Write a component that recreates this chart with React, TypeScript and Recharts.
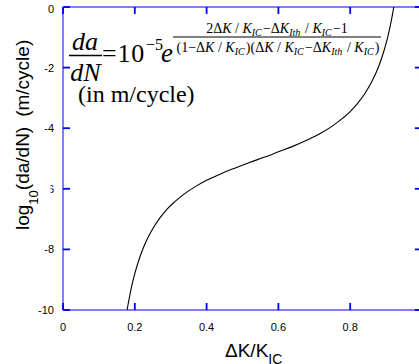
import { Customized, Line, LineChart, ReferenceLine, XAxis, YAxis } from "recharts";

// crack growth rate curve
const ratio = [
  0.178, 0.18, 0.185, 0.19, 0.2, 0.21, 0.22, 0.235, 0.25, 0.27, 0.29, 0.31, 0.34, 0.37, 0.4, 0.44, 0.48,
  0.52, 0.56, 0.6, 0.64, 0.68, 0.72, 0.75, 0.78, 0.8, 0.82, 0.84, 0.86, 0.88, 0.895, 0.905, 0.915, 0.922,
];
const logRate = [
  -10.04, -9.9, -9.58, -9.29, -8.8, -8.4, -8.06, -7.65, -7.32, -6.96, -6.67, -6.44, -6.15, -5.92, -5.72,
  -5.5, -5.31, -5.13, -4.96, -4.78, -4.6, -4.39, -4.15, -3.93, -3.66, -3.45, -3.19, -2.87, -2.47, -1.94,
  -1.41, -0.97, -0.42, 0.04,
];
const xTicks = [0, 0.2, 0.4, 0.6, 0.8, 1];
const yTicks = [-10, -8, -6, -4, -2, 0];

const data = ratio.map((r, i) => ({ ratio: r, logRate: logRate[i] }));

const AXIS = "#0000f0";
const SANS = "'Liberation Sans', Arial, sans-serif";
const SERIF = "'Liberation Serif', 'Times New Roman', serif";
// inward tick length (~7px) in data units, for the top and right edges
const TICK_X = 0.02;
const TICK_Y = 0.23;

function BottomTick({ x, y, payload }: any) {
  return (
    <text x={x} y={y + 21} textAnchor="middle" fontSize={11} fontFamily={SANS} fill="#000">
      {String(payload.value)}
    </text>
  );
}

function LeftTick({ x, y, payload }: any) {
  return (
    <g>
      <text x={x - 9} y={y + 4} textAnchor="end" fontSize={11} fontFamily={SANS} fill="#000">
        {String(payload.value)}
      </text>
      {/* in the original the subscript box hides most of this label */}
      {payload.value === -6 && <rect x={x - 22} y={y - 7} width={9.5} height={14} fill="#fff" />}
    </g>
  );
}

function Sub({ children }: any) {
  return (
    <>
      <tspan fontSize={10} fontStyle="italic" dy={3}>
        {children}
      </tspan>
      <tspan dy={-3}>{"\u200a"}</tspan>
    </>
  );
}

function Annotations() {
  return (
    <g>
      <text transform="translate(29,230) rotate(-90)" fontFamily={SANS} fontSize={19} fill="#000">
        log
        <tspan fontSize={13} dy={9}>
          10
        </tspan>
        <tspan dy={-9}>(da/dN)</tspan>
        <tspan dx={10}>(m/cycle)</tspan>
      </text>
      <text x={225} y={357} fontFamily={SANS} fontSize={19} fill="#000">
        ΔK/K
        <tspan fontSize={14} dy={7}>
          IC
        </tspan>
      </text>

      <g fontFamily={SERIF} fill="#000">
        <text x={85} y={50} fontSize={26} fontStyle="italic" textAnchor="middle">
          da
        </text>
        <line x1={69} x2={102} y1={55.5} y2={55.5} stroke="#000" strokeWidth={1.3} />
        <text x={85.5} y={81} fontSize={26} fontStyle="italic" textAnchor="middle">
          dN
        </text>
        <text x={102} y={62} fontSize={26} letterSpacing={0.8}>
          =10
        </text>
        <text x={146} y={50} fontSize={16}>
          −5
        </text>
        <text x={161} y={62} fontSize={27} fontStyle="italic">
          e
        </text>
        <text x={277} y={33} fontSize={14} textAnchor="middle">
          {"2Δ"}
          <tspan fontStyle="italic">K</tspan>
          {" / "}
          <tspan fontStyle="italic">K</tspan>
          <Sub>IC</Sub>
          {"−Δ"}
          <tspan fontStyle="italic">K</tspan>
          <Sub>Ith</Sub>
          {" / "}
          <tspan fontStyle="italic">K</tspan>
          <Sub>IC</Sub>
          {"−1"}
        </text>
        <line x1={173} x2={381} y1={37} y2={37} stroke="#000" strokeWidth={1} />
        <text x={278} y={52} fontSize={14} textAnchor="middle">
          {"(1−Δ"}
          <tspan fontStyle="italic">K</tspan>
          {" / "}
          <tspan fontStyle="italic">K</tspan>
          <Sub>IC</Sub>
          {")(Δ"}
          <tspan fontStyle="italic">K</tspan>
          {" / "}
          <tspan fontStyle="italic">K</tspan>
          <Sub>IC</Sub>
          {"−Δ"}
          <tspan fontStyle="italic">K</tspan>
          <Sub>Ith</Sub>
          {" / "}
          <tspan fontStyle="italic">K</tspan>
          <Sub>IC</Sub>
          {")"}
        </text>
        <text x={78} y={102} fontSize={24}>
          (in m/cycle)
        </text>
      </g>
    </g>
  );
}

export default function App() {
  return (
    <div
      style={{
        position: "absolute",
        left: 0,
        top: 0,
        width: 419,
        height: 364,
        overflow: "hidden",
        background: "#fff",
      }}
    >
      <LineChart width={440} height={364} data={data} margin={{ top: 7, right: 18, bottom: 0, left: 0 }}>
        <XAxis
          dataKey="ratio"
          type="number"
          domain={[0, 1]}
          ticks={xTicks}
          height={54}
          stroke={AXIS}
          tickLine={{ stroke: AXIS, strokeWidth: 1.8 }}
          tickSize={-7}
          tickMargin={7}
          tick={<BottomTick />}
          allowDataOverflow
        />
        <YAxis
          type="number"
          domain={[-10, 0]}
          ticks={yTicks}
          width={63}
          stroke={AXIS}
          tickLine={{ stroke: AXIS, strokeWidth: 1.8 }}
          tickSize={-7}
          tickMargin={7}
          tick={<LeftTick />}
          allowDataOverflow
        />
        {/* box frame: top and right edges */}
        <ReferenceLine y={0} stroke={AXIS} ifOverflow="visible" />
        <ReferenceLine x={1} stroke={AXIS} ifOverflow="visible" />
        {xTicks.map((t) => (
          <ReferenceLine
            key={`t${t}`}
            segment={[
              { x: t, y: 0 },
              { x: t, y: -TICK_Y },
            ]}
            stroke={AXIS}
            strokeWidth={1.8}
            ifOverflow="visible"
          />
        ))}
        {yTicks.map((t) => (
          <ReferenceLine
            key={`r${t}`}
            segment={[
              { x: 1, y: t },
              { x: 1 - TICK_X, y: t },
            ]}
            stroke={AXIS}
            strokeWidth={1.8}
            ifOverflow="visible"
          />
        ))}
        <Line
          type="monotone"
          dataKey="logRate"
          stroke="#000"
          strokeWidth={1.1}
          dot={false}
          isAnimationActive={false}
        />
        <Customized component={Annotations} />
      </LineChart>
    </div>
  );
}
